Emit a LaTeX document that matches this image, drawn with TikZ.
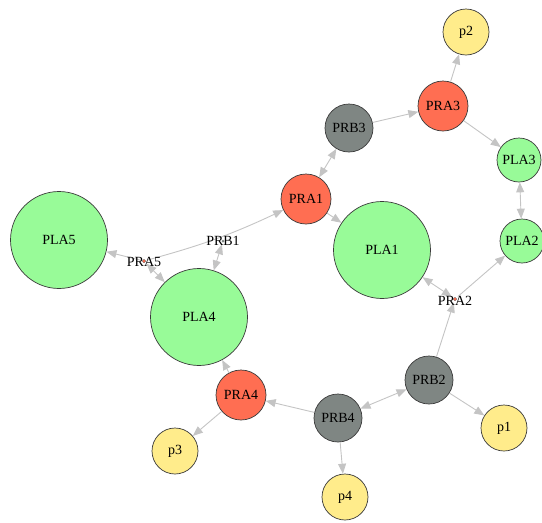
\documentclass[tikz,border=0pt]{standalone}
\usepackage{fontspec}
\setmainfont{Liberation Serif}
\usetikzlibrary{arrows.meta}
\definecolor{cgreen}{HTML}{98FB98}
\definecolor{cred}{HTML}{FF6E52}
\definecolor{cgray}{HTML}{7F8683}
\definecolor{cyellow}{HTML}{FFEC8B}
\definecolor{cedge}{HTML}{C4C4C4}
\definecolor{cborder}{HTML}{3A3A3A}
\tikzset{
  vtx/.style={circle,draw=cborder,line width=0.7pt,inner sep=0pt,font=\fontsize{14}{14}\selectfont},
  big/.style={vtx,fill=cgreen,minimum size=97pt},
  smallg/.style={vtx,fill=cgreen,minimum size=44pt},
  redn/.style={vtx,fill=cred,minimum size=50pt},
  grayn/.style={vtx,fill=cgray,minimum size=48pt},
  yel/.style={vtx,fill=cyellow,minimum size=46pt},
  dotn/.style={circle,inner sep=0pt,minimum size=3.5pt,outer sep=2pt},
  lab/.style={inner sep=0pt,font=\fontsize{14}{14}\selectfont},
  edge/.style={draw=cedge,line width=0.9pt,-{Triangle[length=10pt,width=8pt]}},
  bedge/.style={draw=cedge,line width=0.9pt,{Triangle[length=10pt,width=8pt]}-{Triangle[length=10pt,width=8pt]}},
}
\begin{document}
\begin{tikzpicture}[x=1pt,y=-1pt]
\useasboundingbox (0,0) rectangle (542,523);
% nodes
\node[big] (PLA5) at (59,240) {PLA5};
\node[big] (PLA4) at (199,317) {PLA4};
\node[big] (PLA1) at (382,250) {PLA1};
\node[redn] (PRA1) at (306,199) {PRA1};
\node[grayn] (PRB3) at (349,128) {PRB3};
\node[redn] (PRA3) at (443,106) {PRA3};
\node[smallg] (PLA3) at (519,160) {PLA3};
\node[smallg] (PLA2) at (522,241) {PLA2};
\node[yel] (p2) at (466,32) {p2};
\node[grayn] (PRB2) at (429,380) {PRB2};
\node[redn] (PRA4) at (241,395) {PRA4};
\node[grayn] (PRB4) at (338,418) {PRB4};
\node[yel] (p1) at (504,428) {p1};
\node[yel] (p3) at (175,451) {p3};
\node[yel] (p4) at (345,497) {p4};
\node[dotn,fill=cgray,minimum size=3pt] (PRB1) at (223,241) {};
\node[dotn,fill=cred,draw=cborder,line width=0.3pt] (PRA5) at (144,261) {};
\node[dotn,fill=cred,draw=cborder,line width=0.3pt] (PRA2) at (455,299) {};
% edges
\path[edge] (PRA5) to[bend right=5] (PRA1);
\path[edge] (PRA5) -- (PLA5);
\path[bedge] (PRA5) -- (PLA4);
\path[bedge] (PRB1) -- (PLA4);
\path[edge] (PRA1) -- (PLA1);
\path[bedge] (PRA1) -- (PRB3);
\path[edge] (PRB3) -- (PRA3);
\path[edge] (PRA3) -- (p2);
\path[edge] (PRA3) -- (PLA3);
\path[bedge] (PLA3) -- (PLA2);
\path[edge] (PRA2) -- (PLA2);
\path[bedge] (PRA2) -- (PLA1);
\path[edge] (PRB2) -- (PRA2);
\path[bedge] (PRB2) -- (PRB4);
\path[edge] (PRB2) -- (p1);
\path[edge] (PRB4) -- (PRA4);
\path[edge] (PRB4) -- (p4);
\path[edge] (PRA4) -- (p3);
\path[edge] (PRA4) -- (PLA4);
% labels of point nodes
\node[lab] (PRB1lab) at (223,241) {PRB1};
\node[lab] (PRA5lab) at (144,262) {PRA5};
\node[lab] (PRA2lab) at (455,301) {PRA2};
\end{tikzpicture}
\end{document}
